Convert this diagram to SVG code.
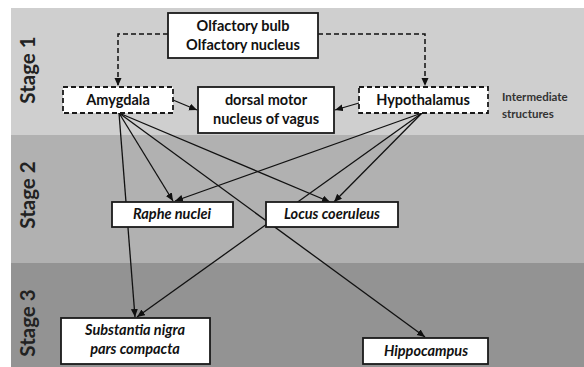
<svg xmlns="http://www.w3.org/2000/svg" width="584" height="367" viewBox="0 0 584 367">
<style>
.box{fill:#fff;stroke:#1a1a1a;stroke-width:1.8}
.dbox{fill:#fff;stroke:#1a1a1a;stroke-width:1.8;stroke-dasharray:5,3}
.t{font-family:Lato,"Liberation Sans",sans-serif;font-weight:bold;font-size:14.5px;fill:#111;text-anchor:middle}
.ti{font-family:Lato,"Liberation Sans",sans-serif;font-weight:bold;font-style:italic;font-size:14.5px;fill:#111;text-anchor:middle}
.stage{font-family:Lato,"Liberation Sans",sans-serif;font-weight:bold;font-size:20.5px;fill:#222;text-anchor:middle;dominant-baseline:central}
.note{font-family:Lato,"Liberation Sans",sans-serif;font-weight:bold;font-size:11.5px;fill:#333}
.c{fill:none;stroke:#111;stroke-width:1.3;marker-end:url(#ah)}
.cd{fill:none;stroke:#111;stroke-width:1.5;stroke-dasharray:5,3;marker-end:url(#ah)}
</style>
<defs>
<marker id="ah" markerUnits="userSpaceOnUse" markerWidth="9" markerHeight="8" refX="8" refY="3.5" orient="auto">
<path d="M0,0 L8,3.5 L0,7 z" fill="#111"/>
</marker>
</defs>
<rect width="584" height="367" fill="#fff"/>
<g id="bands">
<rect x="11" y="8" width="573" height="127" fill="#cfcfcf"/>
<rect x="11" y="135" width="573" height="128" fill="#b1b1b1"/>
<rect x="11" y="263" width="573" height="104" fill="#939393"/>
<text class="stage" transform="translate(27,70) rotate(-90)">Stage 1</text>
<text class="stage" transform="translate(27,195) rotate(-90)">Stage 2</text>
<text class="stage" transform="translate(27,323) rotate(-90)">Stage 3</text>
</g>
<g id="connectors">
<path class="cd" d="M168,34 H118 V86"/>
<path class="cd" d="M318,34 H425 V86"/>
<path class="c" d="M173,100 L197,110"/>
<path class="c" d="M359,103 L335,110"/>
<path class="c" d="M119,113 L135,317"/>
<path class="c" d="M119,113 L173,201"/>
<path class="c" d="M119,113 L330,202"/>
<path class="c" d="M119,113 L425,337"/>
<path class="c" d="M422,113 L175,201"/>
<path class="c" d="M422,113 L334,202"/>
<path class="c" d="M422,113 L137,317"/>
</g>
<g id="olfactory">
<rect class="box" x="168" y="13" width="150" height="45"/>
<text class="t" x="243" y="31">Olfactory bulb</text>
<text class="t" x="243" y="50">Olfactory nucleus</text>
</g>
<g id="amygdala">
<rect class="dbox" x="63" y="87" width="110" height="26"/>
<text class="t" x="118" y="105">Amygdala</text>
</g>
<g id="dmnv">
<rect class="box" x="198" y="87" width="136" height="46"/>
<text class="t" x="266" y="105">dorsal motor</text>
<text class="t" x="266" y="124">nucleus of vagus</text>
</g>
<g id="hypothalamus">
<rect class="dbox" x="359" y="87" width="129" height="26"/>
<text class="t" x="423" y="105">Hypothalamus</text>
</g>
<g id="intermediate">
<text class="note" x="502" y="101">Intermediate</text>
<text class="note" x="502" y="118">structures</text>
</g>
<g id="raphe">
<rect class="box" x="112" y="202" width="121" height="25"/>
<text class="ti" x="172" y="219">Raphe nuclei</text>
</g>
<g id="locus">
<rect class="box" x="266" y="202" width="132" height="25"/>
<text class="ti" x="332" y="219">Locus coeruleus</text>
</g>
<g id="substantia">
<rect class="box" x="61" y="318" width="149" height="46"/>
<text class="ti" x="135" y="335">Substantia nigra</text>
<text class="ti" x="135" y="354">pars compacta</text>
</g>
<g id="hippocampus">
<rect class="box" x="363" y="338" width="125" height="26"/>
<text class="ti" x="426" y="356">Hippocampus</text>
</g>
</svg>
